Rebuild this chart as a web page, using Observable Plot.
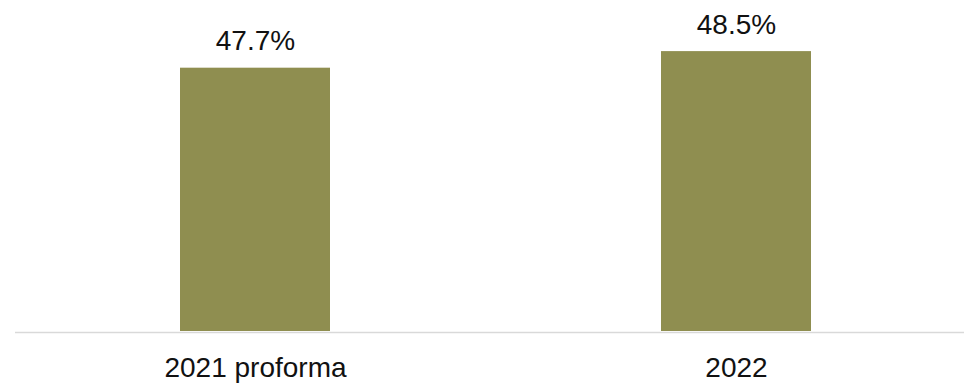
<!DOCTYPE html>
<html>
<head>
<meta charset="utf-8">
<script src="https://cdn.jsdelivr.net/npm/d3@7"></script>
<script src="https://cdn.jsdelivr.net/npm/@observablehq/plot@0.6"></script>
<style>
  html, body { margin: 0; padding: 0; background: #fff; }
</style>
</head>
<body>
<div id="chart"></div>
<script>
const categories = ["2021 proforma", "2022"];
const values = [47.7, 48.5];
const labels = ["47.7%", "48.5%"];

const data = categories.map((c, i) => ({category: c, value: values[i], label: labels[i]}));

const chart = Plot.plot({
  width: 964,
  height: 385,
  marginLeft: 15,
  marginRight: 0,
  marginTop: 20,
  marginBottom: 54,
  style: {fontFamily: "'Liberation Sans', Arial, sans-serif", fontSize: "28px", color: "#111", background: "#fff"},
  x: {domain: categories, range: [15, 976.5], paddingInner: 0.6885, paddingOuter: 0.3427, label: null},
  y: {domain: [35, 50], axis: null},
  marks: [
    Plot.barY(data, {x: "category", y1: 35, y2: "value", fill: "#8F8E50"}),
    Plot.ruleY([35], {stroke: "#d9d9d9", strokeWidth: 1.5, dy: 1}),
    Plot.text(data, {x: "category", y: "value", text: "label", lineAnchor: "bottom", dy: -18, fontSize: 28, fill: "#111"}),
    Plot.axisX({tickSize: 0, tickPadding: 26, fontSize: 28, label: null, fill: "#111"})
  ]
});
document.getElementById("chart").append(chart);
</script>
</body>
</html>
